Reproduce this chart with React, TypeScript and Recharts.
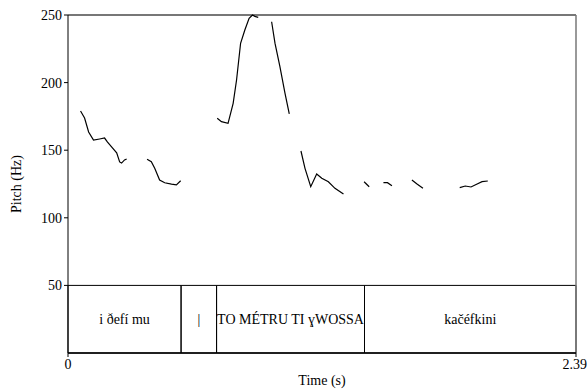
import { LineChart, Line, XAxis, YAxis, ReferenceLine, ReferenceArea } from "recharts";

// pitch contour pieces (time in s, pitch in Hz)
const seg1 = [
  { t: 0.059, hz: 179 }, { t: 0.078, hz: 173.8 }, { t: 0.097, hz: 163.5 }, { t: 0.12, hz: 157.5 },
  { t: 0.149, hz: 158.3 }, { t: 0.172, hz: 159 }, { t: 0.186, hz: 156 }, { t: 0.205, hz: 152.4 },
  { t: 0.229, hz: 148 }, { t: 0.243, hz: 141.3 }, { t: 0.252, hz: 140.5 }, { t: 0.266, hz: 142.8 },
  { t: 0.276, hz: 143.5 },
];
const seg2 = [
  { t: 0.372, hz: 143.3 }, { t: 0.392, hz: 141.5 }, { t: 0.408, hz: 136.6 }, { t: 0.431, hz: 127.9 },
  { t: 0.455, hz: 125.9 }, { t: 0.487, hz: 124.9 }, { t: 0.51, hz: 124.4 }, { t: 0.53, hz: 127.4 },
];
const seg3 = [
  { t: 0.702, hz: 173.6 }, { t: 0.722, hz: 171.1 }, { t: 0.753, hz: 169.9 }, { t: 0.777, hz: 184.7 },
  { t: 0.793, hz: 201.9 }, { t: 0.812, hz: 229.1 }, { t: 0.832, hz: 238.9 }, { t: 0.852, hz: 247.6 },
  { t: 0.868, hz: 250 }, { t: 0.879, hz: 249 }, { t: 0.895, hz: 248.3 },
];
const seg4 = [
  { t: 0.958, hz: 245 }, { t: 0.974, hz: 229 }, { t: 0.997, hz: 211.8 }, { t: 1.021, hz: 192.1 },
  { t: 1.041, hz: 176.8 },
];
const seg5 = [
  { t: 1.096, hz: 149.4 }, { t: 1.115, hz: 136.6 }, { t: 1.142, hz: 123 }, { t: 1.17, hz: 132.4 },
  { t: 1.194, hz: 129.2 }, { t: 1.225, hz: 126.7 }, { t: 1.256, hz: 121.8 }, { t: 1.296, hz: 117.6 },
];
const seg6 = [{ t: 1.393, hz: 126.7 }, { t: 1.417, hz: 123 }];
const seg7 = [{ t: 1.484, hz: 126 }, { t: 1.503, hz: 126 }, { t: 1.524, hz: 123.7 }];
const seg8 = [{ t: 1.618, hz: 128 }, { t: 1.642, hz: 125 }, { t: 1.67, hz: 121.8 }];
const seg9 = [
  { t: 1.843, hz: 122.3 }, { t: 1.869, hz: 123.5 }, { t: 1.896, hz: 122.8 }, { t: 1.925, hz: 125 },
  { t: 1.948, hz: 126.7 }, { t: 1.975, hz: 127.2 },
];
const segments = [seg1, seg2, seg3, seg4, seg5, seg6, seg7, seg8, seg9];

// text tier
const tierBounds = [0, 0.532, 0.699, 1.395, 2.39];
const tierLabels = ["i ðefí mu", "|", "TO MÉTRU TI ɣWOSSA", "kačéfkini"];

const yTicks = [50, 100, 150, 200, 250];
const xTicks = [0, 2.39];
const tierTop = 50;
const endTime = 2.39;

const font = "'Liberation Serif', 'DejaVu Serif', 'Times New Roman', serif";
const txt = { fill: "#000", fontSize: 14, fontFamily: font, style: { fontFamily: font } };

export default function App() {
  return (
    <div style={{ position: "absolute", left: 0, top: 0, background: "#fff", fontFamily: font }}>
      <LineChart
        width={587}
        height={391}
        margin={{ top: 15, right: 11, left: 0, bottom: 0 }}
        style={{ fontFamily: font }}
      >
        <XAxis
          type="number"
          dataKey="t"
          domain={[0, endTime]}
          ticks={xTicks}
          tickFormatter={(v) => (v === 0 ? "0" : String(v))}
          height={38}
          tickSize={4}
          tick={txt}
          tickLine={{ stroke: "#000" }}
          axisLine={{ stroke: "#000", strokeWidth: 1.5 }}
          label={{ value: "Time (s)", position: "insideBottom", offset: 6, ...txt }}
        />
        <YAxis
          type="number"
          domain={[0, 250]}
          ticks={yTicks}
          width={68}
          tickSize={4}
          tick={txt}
          tickLine={{ stroke: "#000" }}
          axisLine={{ stroke: "#000" }}
          label={{ value: "Pitch (Hz)", angle: -90, position: "center", dx: -18, ...txt }}
        />
        <ReferenceLine y={250} stroke="#777" strokeWidth={2} />
        <ReferenceLine x={endTime} stroke="#777" strokeWidth={1.5} />
        {tierLabels.map((lab, i) => (
          <ReferenceArea
            key={lab}
            x1={tierBounds[i]}
            x2={tierBounds[i + 1]}
            y1={0}
            y2={tierTop}
            fill="none"
            stroke="#000"
            strokeWidth={1}
            label={{ value: lab, position: "center", ...txt }}
          />
        ))}
        {segments.map((s, i) => (
          <Line
            key={i}
            data={s}
            dataKey="hz"
            type="linear"
            stroke="#000"
            strokeWidth={1.2}
            dot={false}
            activeDot={false}
            isAnimationActive={false}
          />
        ))}
      </LineChart>
    </div>
  );
}
